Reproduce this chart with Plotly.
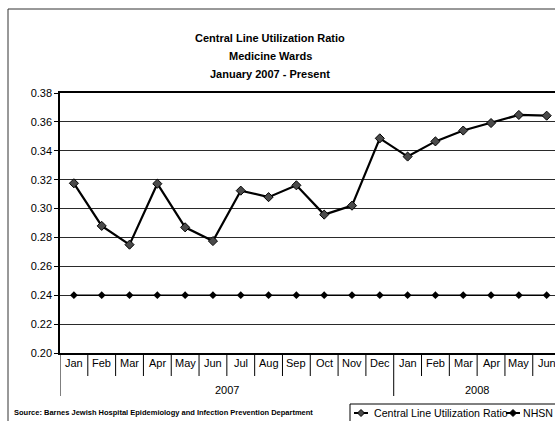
import plotly.graph_objects as go

# Monthly categories (Jan 2007 - Jun 2008)
years = ["2007"] * 12 + ["2008"] * 6
months = ["Jan", "Feb", "Mar", "Apr", "May", "Jun", "Jul", "Aug", "Sep", "Oct", "Nov", "Dec",
          "Jan", "Feb", "Mar", "Apr", "May", "Jun"]

# Central line utilization ratio, medicine wards
clur = [0.3175, 0.288, 0.275, 0.3172, 0.287, 0.2775, 0.3124, 0.3079, 0.3161, 0.2958, 0.302,
        0.3486, 0.336, 0.3465, 0.354, 0.3592, 0.3648, 0.3643]
# NHSN benchmark
nhsn = [0.24] * 18

y_ticks = [0.20, 0.22, 0.24, 0.26, 0.28, 0.30, 0.32, 0.34, 0.36, 0.38]

title_lines = ["Central Line Utilization Ratio", "Medicine Wards", "January 2007 - Present"]
series_names = ["Central Line Utilization Ratio", "NHSN"]

W, H = 555, 421
L, R, T, B = 60, 0, 93, 68
PW, PH = W - L - R, H - T - B
FONT = "Liberation Sans, Arial, sans-serif"


def px(x):
    """Pixel column -> paper x."""
    return (x - L) / PW


def py(y):
    """Pixel row -> paper y."""
    return (H - B - y) / PH


idx = list(range(len(months)))

fig = go.Figure()
fig.add_trace(go.Scatter(
    x=idx, y=clur, name=series_names[0], mode="lines+markers",
    line=dict(color="black", width=2.2),
    marker=dict(symbol="diamond", size=7, color="#4a4a4a", line=dict(color="black", width=1)),
    cliponaxis=False,
))
fig.add_trace(go.Scatter(
    x=idx, y=nhsn, name=series_names[1], mode="lines+markers",
    line=dict(color="black", width=1.6),
    marker=dict(symbol="diamond", size=6, color="black"),
))

shapes = []
# separators between month categories; longer ones at year boundaries
for i in range(len(months) + 1):
    year_edge = i == 0 or i == len(months) or years[i] != years[i - 1]
    shapes.append(dict(type="line", xref="x", yref="paper", x0=i - 0.5, x1=i - 0.5,
                       y0=0, y1=py(396) if year_edge else py(376),
                       line=dict(color="black", width=1)))
# outer chart frame
shapes.append(dict(type="rect", xref="paper", yref="paper", x0=px(8), x1=px(700),
                   y0=py(600), y1=py(9), line=dict(color="#333333", width=1), layer="below"))

annotations = []
for i, m in enumerate(months):
    annotations.append(dict(x=i, y=py(363), xref="x", yref="paper", text=m, showarrow=False,
                            font=dict(size=11, color="black", family=FONT), yanchor="middle"))
# year group labels centred under their months
for yr in dict.fromkeys(years):
    members = [i for i, v in enumerate(years) if v == yr]
    annotations.append(dict(x=(members[0] + members[-1]) / 2, y=py(390), xref="x", yref="paper",
                            text=yr, showarrow=False, yanchor="middle",
                            font=dict(size=11, color="black", family=FONT)))
# three-line bold title
for line, ypix in zip(title_lines, [38, 56, 74]):
    annotations.append(dict(x=px(270), y=py(ypix), xref="paper", yref="paper",
                            xanchor="center", yanchor="middle", showarrow=False,
                            text="<b>" + line + "</b>",
                            font=dict(size=11, color="black", family=FONT)))
annotations.append(dict(x=px(12), y=py(412), xref="paper", yref="paper", xanchor="left",
                        yanchor="middle", showarrow=False,
                        text="<b>Source: Barnes Jewish Hospital Epidemiology and Infection Prevention Department</b>",
                        font=dict(size=7.5, color="black", family=FONT)))

# legend box with line+diamond keys
shapes.append(dict(type="rect", xref="paper", yref="paper", x0=px(350), x1=px(700),
                   y0=py(440), y1=py(404), line=dict(color="black", width=1),
                   fillcolor="white", layer="above"))
legend_keys = [(354, 372, "#4a4a4a", 10.6), (506, 521, "black", 10.6)]
for (x0, tx, mc, fs), name in zip(legend_keys, series_names):
    ly = 413
    shapes.append(dict(type="line", xref="paper", yref="paper", x0=px(x0), x1=px(x0 + 14),
                       y0=py(ly), y1=py(ly), line=dict(color="black", width=2), layer="above"))
    cx, r = x0 + 7, 3.5
    shapes.append(dict(type="path", xref="paper", yref="paper", layer="above",
                       path=f"M {px(cx - r)} {py(ly)} L {px(cx)} {py(ly - r)} L {px(cx + r)} {py(ly)} "
                            f"L {px(cx)} {py(ly + r)} Z",
                       fillcolor=mc, line=dict(color="black", width=1)))
    annotations.append(dict(x=px(tx), y=py(ly), xref="paper", yref="paper", xanchor="left",
                            yanchor="middle", showarrow=False, text=name,
                            font=dict(size=fs, color="black", family=FONT)))

fig.update_layout(
    width=W, height=H,
    margin=dict(l=L, r=R, t=T, b=B),
    paper_bgcolor="white", plot_bgcolor="white",
    font=dict(family=FONT, color="black", size=11),
    xaxis=dict(range=[-0.5, 17.3], showticklabels=False, showgrid=False, zeroline=False,
               showline=True, linecolor="black", linewidth=2, mirror=True, ticks=""),
    yaxis=dict(range=[0.20, 0.38], tickvals=y_ticks, tickformat=".2f", showgrid=True,
               gridcolor="#2a2a2a", gridwidth=1, zeroline=False, showline=True,
               linecolor="black", linewidth=1.5, ticks="outside", ticklen=4, tickcolor="black",
               tickfont=dict(size=11, family=FONT, color="black")),
    showlegend=False,
    shapes=shapes, annotations=annotations,
)

fig.write_html("out.html")
